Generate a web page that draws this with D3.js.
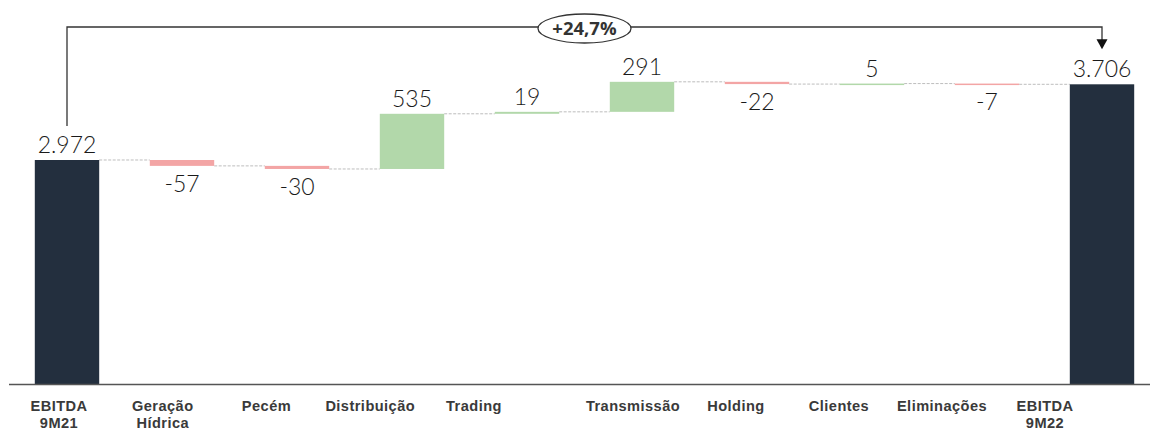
<!DOCTYPE html>
<html><head><meta charset="utf-8">
<script src="https://cdn.jsdelivr.net/npm/d3@7/dist/d3.min.js"></script>
<style>
html,body{margin:0;padding:0;background:#fff;}
svg{display:block;}
</style></head>
<body><svg id="c" width="1150" height="432"></svg>
<script>
const categories = ["EBITDA 9M21","Geração Hídrica","Pecém","Distribuição","Trading","Transmissão","Holding","Clientes","Eliminações","EBITDA 9M22"];
const labelLines = [["EBITDA","9M21"],["Geração","Hídrica"],["Pecém"],["Distribuição"],["Trading"],["Transmissão"],["Holding"],["Clientes"],["Eliminações"],["EBITDA","9M22"]];
const values = [2972,-57,-30,535,19,291,-22,5,-7,3706];
const kinds = ["total","delta","delta","delta","delta","delta","delta","delta","delta","total"];
const valueLabels = ["2.972","-57","-30","535","19","291","-22","5","-7","3.706"];
const growthLabel = "+24,7%";
const yDomain = [800, 3706];

const svg = d3.select("#c");
const x = d3.scaleBand().domain(categories).range([9.5,1159.5]).paddingInner(0.44).paddingOuter(0.22);
const y = d3.scaleLinear().domain(yDomain).range([384, 84.3]);

let cum = 0;
const bars = categories.map((c,i)=>{
  let y0,y1;
  if(kinds[i]==="total"){ y0=yDomain[0]; y1=values[i]; cum=values[i]; }
  else { y0=cum; y1=cum+values[i]; cum=y1; }
  return {c,i,v:values[i],y0,y1,kind:kinds[i],end:cum};
});
const colorOf = d => d.kind==="total" ? "#232f3e" : (d.v>=0 ? "#b2d8aa" : "#f3a5a5");

const g = svg.append("g");
bars.slice(0,-1).forEach((d,i)=>{
  const n = bars[i+1];
  g.append("line")
    .attr("x1", x(d.c)+x.bandwidth()).attr("x2", x(n.c))
    .attr("y1", y(d.end)).attr("y2", y(d.end))
    .attr("stroke","#bdbdbd").attr("stroke-width",1).attr("stroke-dasharray","3,1.5");
});

g.selectAll("rect.bar").data(bars).join("rect")
  .attr("class","bar")
  .attr("x", d=>x(d.c)).attr("width", x.bandwidth())
  .attr("y", d=>y(Math.max(d.y0,d.y1)))
  .attr("height", d=>Math.max(1.5, Math.abs(y(d.y0)-y(d.y1))))
  .attr("fill", colorOf);

g.selectAll("text.val").data(bars).join("text")
  .attr("class","val")
  .attr("x", d=>x(d.c)+x.bandwidth()/2)
  .attr("y", d=> (d.kind==="total"||d.v>=0) ? y(Math.max(d.y0,d.y1))-7 : y(Math.min(d.y0,d.y1))+26)
  .attr("text-anchor","middle")
  .attr("font-family","Lato, 'Open Sans', sans-serif")
  .attr("font-weight",300)
  .attr("font-size",23)
  .attr("fill","#1a1a1a")
  .text((d,i)=>valueLabels[i]);

svg.append("line").attr("x1",9).attr("x2",1150).attr("y1",y(yDomain[0])+0.5).attr("y2",y(yDomain[0])+0.5)
  .attr("stroke","#555").attr("stroke-width",1.5);

// category labels (laid out in two groups as in the source)
const lx1 = d3.scalePoint().domain(categories.slice(0,5)).range([59,474]);
const lx2 = d3.scalePoint().domain(categories.slice(5)).range([633,1045]);
const lx = c => categories.indexOf(c)<5 ? lx1(c) : lx2(c);
categories.forEach((c,i)=>{
  labelLines[i].forEach((ln,j)=>{
    svg.append("text")
      .attr("x", lx(c)).attr("y", 411 + j*17)
      .attr("text-anchor","middle")
      .attr("font-family","'Liberation Sans', Arial, sans-serif")
      .attr("font-weight","bold").attr("font-size",14.6)
      .attr("letter-spacing",0.45)
      .attr("fill","#3a3a3a")
      .text(ln);
  });
});

const first = bars[0], last = bars[bars.length-1];
const xa = x(first.c)+x.bandwidth()/2, xb = x(last.c)+x.bandwidth()/2;
const topY = 27;
svg.append("path")
  .attr("d", `M${xa},${y(first.y1)-34} V${topY} H${xb} V${y(last.y1)-44}`)
  .attr("fill","none").attr("stroke","#333").attr("stroke-width",1.3);
svg.append("path")
  .attr("d", `M${xb-5.5},${y(last.y1)-45} L${xb+5.5},${y(last.y1)-45} L${xb},${y(last.y1)-35} Z`)
  .attr("fill","#111");
const xm = (xa+xb)/2;
svg.append("ellipse").attr("cx",xm).attr("cy",topY+1.5).attr("rx",46.5).attr("ry",14.5)
  .attr("fill","#fff").attr("stroke","#333").attr("stroke-width",1.3);
svg.append("text").attr("x",xm).attr("y",topY+8)
  .attr("text-anchor","middle")
  .attr("font-family","'Open Sans', Lato, sans-serif")
  .attr("font-weight","bold").attr("font-size",18.5).attr("fill","#333")
  .text(growthLabel);
</script>
</body></html>
